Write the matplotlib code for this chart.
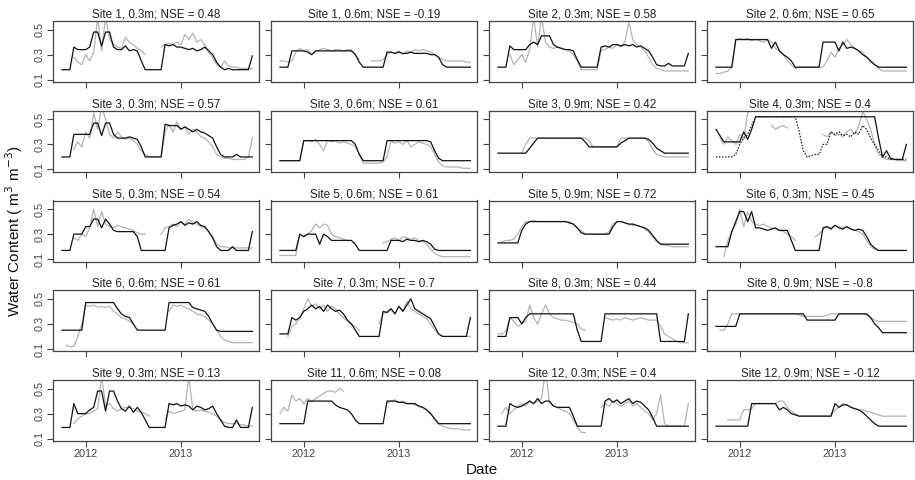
import numpy as np
import matplotlib
matplotlib.use('Agg')
import matplotlib.pyplot as plt

plt.rcParams['font.family'] = ['Liberation Sans', 'DejaVu Sans']

# Time axis: half-month steps from Oct 2011 to Oct 2013 (decimal years).
t_start = 2011.75
n_steps = 49
times = t_start + np.arange(n_steps) / 24.0

N = None

titles = [
    "Site 1, 0.3m; NSE = 0.48", "Site 1, 0.6m; NSE = -0.19", "Site 2, 0.3m; NSE = 0.58", "Site 2, 0.6m; NSE = 0.65",
    "Site 3, 0.3m; NSE = 0.57", "Site 3, 0.6m; NSE = 0.61", "Site 3, 0.9m; NSE = 0.42", "Site 4, 0.3m; NSE = 0.4",
    "Site 5, 0.3m; NSE = 0.54", "Site 5, 0.6m; NSE = 0.61", "Site 5, 0.9m; NSE = 0.72", "Site 6, 0.3m; NSE = 0.45",
    "Site 6, 0.6m; NSE = 0.61", "Site 7, 0.3m; NSE = 0.7", "Site 8, 0.3m; NSE = 0.44", "Site 8, 0.9m; NSE = -0.8",
    "Site 9, 0.3m; NSE = 0.13", "Site 11, 0.6m; NSE = 0.08", "Site 12, 0.3m; NSE = 0.4", "Site 12, 0.9m; NSE = -0.12",
]

# Observed (grey) and modelled (black) water content, one list per panel.
obs_s1_30 = [N, N, N, .28, .24, .22, .30, .25, .32, .60, .33, .60, .42, .38, .36, .35, .44, .40, .38, .35, .33, .30, N, N, N,
             .36, .38, .39, .38, .40, .38, .46, .42, .47, .40, .42, .38, .32, .28, .22, .20, .25, .21, .20, .20, .19, .19, .19, .19]
mod_s1_30 = [.18, .18, .18, .36, .34, .34, .34, .36, .48, .48, .37, .48, .48, .36, .34, .34, .37, .33, .34, .33, .25, .18, .18, .18, .18,
             .18, .38, .37, .38, .36, .36, .35, .34, .35, .33, .34, .36, .33, .30, .24, .20, .18, .19, .18, .18, .18, .18, .18, .29]

obs_s1_60 = [.25, .25, .24, .25, .32, .35, .33, .34, .30, .33, .34, .35, .34, .33, .34, .34, .33, .34, .34, .30, .26, N, N, .25, .25,
             .25, .26, .30, .32, .31, .33, .30, .33, .32, .34, .33, .34, .33, .32, .30, .28, .26, .25, .25, .25, .25, .25, .24, .24]
mod_s1_60 = [.20, .20, .20, .33, .33, .33, .33, .32, .30, .33, .33, .33, .33, .33, .33, .33, .33, .33, .33, .30, .24, .20, .20, .20, .20,
             .20, .20, .32, .32, .31, .32, .31, .31, .32, .31, .31, .31, .31, .30, .30, .28, .22, .20, .20, .20, .20, .20, .20, .20]

obs_s2_30 = [N, N, N, .30, .22, .26, .30, .24, .34, .60, .36, .60, .40, .36, .35, .36, .35, .34, .33, .30, .25, .18, .18, .18, .18,
             .18, .33, .34, .36, .35, .38, .36, .40, .56, .42, .38, .36, .33, .28, .22, .19, .18, .17, .17, .17, .17, .17, .17, .17]
mod_s2_30 = [.20, .20, .20, .37, .34, .34, .34, .34, .38, .40, .38, .45, .45, .45, .38, .36, .35, .34, .34, .33, .26, .20, .20, .20, .20,
             .20, .36, .37, .36, .38, .38, .37, .38, .37, .38, .36, .37, .35, .33, .28, .22, .21, .21, .23, .21, .21, .21, .21, .31]

obs_s2_60 = [.15, .15, .16, .17, .20, .42, .43, .42, .43, .41, .42, .41, .40, .42, .40, .35, .33, .30, .25, .22, .19, .20, .20, .20, .20,
             .20, .20, .20, .25, .32, .28, .35, .38, .42, .38, .35, .33, .32, .28, .24, .22, .19, .17, .17, .17, .17, .17, .17, .17]
mod_s2_60 = [.20, .20, .20, .20, .20, .42, .42, .42, .42, .42, .42, .42, .42, .42, .35, .40, .33, .30, .28, .25, .20, .20, .20, .20, .20,
             .20, .20, .40, .40, .40, .40, .33, .40, .35, .36, .35, .33, .30, .28, .25, .22, .20, .20, .20, .20, .20, .20, .20, .20]

obs_s3_30 = [N, N, N, .26, .32, .28, .40, .35, .55, .42, .60, .50, .38, .35, .40, .36, .34, .35, .33, .30, .25, .22, .20, .20, .20,
             .20, .40, .46, .40, .48, .42, .44, .38, .42, .40, .36, .35, .32, .28, .22, .20, .19, .19, .18, .18, .18, .18, .20, .35]
mod_s3_30 = [.20, .20, .20, .38, .38, .38, .38, .38, .47, .47, .37, .47, .47, .38, .35, .35, .35, .36, .35, .34, .28, .20, .20, .20, .20,
             .20, .46, .45, .45, .45, .42, .44, .42, .40, .42, .40, .39, .37, .35, .28, .22, .20, .20, .20, .22, .20, .20, .20, .20]

obs_s3_60 = [.17, .17, .17, .17, .17, .17, .33, .33, .32, .34, .30, .25, .33, .32, .33, .31, .32, .31, .30, .28, .22, .15, .15, .15, .15,
             .15, .16, .20, .33, .31, .32, .30, .33, .28, .30, .32, .31, .30, .28, .22, .16, .13, .12, .12, .12, .12, .11, .11, .11]
mod_s3_60 = [.17, .17, .17, .17, .17, .17, .33, .33, .33, .33, .33, .33, .33, .33, .33, .33, .33, .33, .33, .30, .22, .17, .17, .17, .17,
             .17, .17, .33, .33, .33, .33, .33, .33, .33, .33, .33, .33, .33, .32, .25, .19, .17, .17, .17, .17, .17, .17, .17, .17]

obs_s3_90 = [N, N, N, N, N, N, .23, .30, .35, .35, .35, .35, .35, .35, .35, .35, .35, .35, .35, .35, .35, .35, .35, .33, .28,
             .28, .28, .28, .28, .28, .28, .35, .35, .35, .35, .35, .35, .35, .32, .26, .22, .21, .20, .20, .20, .20, .20, .20, .20]
mod_s3_90 = [.23, .23, .23, .23, .23, .23, .23, .23, .27, .31, .35, .35, .35, .35, .35, .35, .35, .35, .35, .35, .35, .35, .32, .28, .28,
             .28, .28, .28, .28, .28, .28, .31, .33, .35, .35, .35, .35, .35, .34, .31, .27, .25, .23, .23, .23, .23, .23, .23, .23]

obs_s4_30 = [N, .35, .30, .36, .33, .30, .38, .34, .55, .58, .60, .58, N, N, .45, .42, .44, .45, .43, N, N, N, N, N, N,
             N, N, .38, .36, .40, .37, .38, .36, .40, .42, .38, .45, .56, .50, .42, .30, .22, .20, .18, .18, .18, .17, .17, .17]
mod_s4_30 = [.42, .37, .32, .32, .32, .32, .32, .40, .34, .42, .52, .52, .52, .52, .52, .52, .52, .52, .52, .52, .52, .52, .52, .52, .52,
             .52, .52, .52, .52, .52, .52, .52, .52, .52, .52, .52, .52, .52, .52, .52, .52, .35, .20, .25, .19, .18, .18, .18, .30]
dot_s4_30 = [.20, .20, .20, .20, .20, .22, .30, .35, .38, .45, .52, .52, .52, .52, .52, .52, .52, .52, .52, .52, .52, .40, .25, .20, .21,
             .22, .22, .30, .30, .40, .38, .40, .37, .38, .36, .40, .38, .45, .42, .35, .30, .25, .20, .20, .18, .18, .18, .18, .18]

obs_s5_30 = [N, N, N, .27, .25, .30, .28, .35, .50, .36, .48, .38, .36, .35, .37, .36, .35, .34, .33, .31, .30, .30, N, N, N,
             .30, .35, .36, .38, .36, .40, .38, .42, .39, .38, .36, .35, .32, .28, .22, .20, .20, .19, .19, .19, .19, .19, .19, .19]
mod_s5_30 = [.17, .17, .17, .30, .30, .30, .36, .36, .42, .42, .35, .42, .38, .33, .32, .32, .32, .32, .32, .28, .17, .17, .17, .17, .17,
             .17, .17, .35, .37, .38, .40, .37, .39, .38, .40, .37, .36, .32, .27, .20, .17, .17, .17, .20, .17, .17, .17, .17, .32]

obs_s5_60 = [.13, .13, .13, .13, .13, .30, .28, .30, .33, .38, .35, .38, .37, .30, .28, .27, .26, .25, N, N, N, N, N, N, N,
             N, .23, .24, .26, .27, .25, .28, .27, .26, .27, .25, .24, .22, .18, .15, .13, .12, .12, .12, .12, .12, .12, .12, .12]
mod_s5_60 = [.17, .17, .17, .17, .17, .30, .28, .30, .30, .30, .22, .30, .28, .25, .25, .25, .25, .25, .25, .22, .17, .17, .17, .17, .17,
             .17, .17, .17, .25, .25, .25, .24, .26, .25, .25, .24, .25, .24, .22, .18, .17, .17, .17, .17, .17, .17, .17, .17, .17]

obs_s5_90 = [N, .24, .25, .25, .26, .30, .36, .40, .40, .41, .40, .40, .40, .40, .40, .40, .40, .40, .40, .38, .35, .33, .30, .30, .30,
             .30, .30, .30, .32, .38, .40, .40, .39, .38, .37, .37, .36, .34, .32, .28, .24, .22, .21, .21, .20, .20, .20, .20, .20]
mod_s5_90 = [.23, .23, .23, .23, .23, .23, .33, .38, .40, .40, .40, .40, .40, .40, .40, .40, .40, .40, .39, .38, .35, .31, .30, .30, .30,
             .30, .30, .30, .30, .36, .40, .40, .39, .38, .38, .37, .36, .35, .33, .29, .25, .22, .22, .22, .22, .22, .22, .22, .22]

obs_s6_30 = [N, N, .12, .25, .32, .38, .50, .36, .48, .40, .38, .37, .38, .36, .35, .34, .33, .32, .30, .28, .25, N, N, N, N,
             .28, .30, .34, .36, .35, .37, .36, .35, .36, .34, .33, .32, .30, .25, .20, .18, .17, .17, .17, .17, .17, .17, .17, .17]
mod_s6_30 = [.20, .20, .20, .20, .32, .40, .48, .48, .40, .48, .35, .35, .34, .33, .34, .35, .33, .33, .33, .25, .17, .17, .17, .17, .17,
             .17, .17, .35, .36, .34, .37, .35, .34, .36, .34, .33, .34, .33, .28, .22, .19, .17, .17, .17, .17, .17, .17, .17, .17]

obs_s6_60 = [N, .13, .12, .12, .20, .30, .45, .44, .45, .43, .44, .43, .44, .40, .38, .35, .34, .32, .30, N, N, N, N, N, N,
             N, N, .40, .45, .44, .45, .43, .42, .40, .38, .37, .36, .33, .30, .25, .20, .17, .16, .15, .15, .15, .15, .15, .15]
mod_s6_60 = [.25, .25, .25, .25, .25, .25, .47, .47, .47, .47, .47, .47, .47, .47, .42, .38, .36, .35, .30, .25, .25, .25, .25, .25, .25,
             .25, .25, .47, .47, .47, .47, .47, .47, .43, .42, .41, .40, .36, .30, .25, .24, .24, .24, .24, .24, .24, .24, .24, .24]

obs_s7_30 = [N, N, .20, .28, .30, .35, .42, .50, .44, .46, .42, .45, .40, .44, .42, .38, .35, .32, .30, .28, .25, N, N, N, N,
             .30, .38, .40, .42, .38, .44, .40, .48, .42, .40, .38, .36, .34, .30, .25, .22, .20, .20, .20, .20, .20, .20, .20, .20]
mod_s7_30 = [.22, .22, .22, .35, .33, .35, .40, .42, .45, .42, .44, .40, .45, .42, .40, .41, .38, .33, .30, .25, .20, .20, .20, .20, .20,
             .20, .40, .39, .42, .38, .44, .40, .45, .50, .42, .40, .38, .36, .34, .28, .22, .20, .20, .20, .20, .20, .20, .20, .35]

obs_s8_30 = [.22, .22, .24, .35, .32, .28, .30, .32, .45, .35, .30, .38, .45, .38, .35, .34, .33, .33, .32, .31, .30, .26, .25, N, N,
             N, N, .35, .34, .33, .34, .33, .35, .34, .33, .34, .35, .34, .33, .33, .33, .28, .22, .20, .18, .16, .15, .15, .15]
mod_s8_30 = [.20, .20, .20, .35, .35, .35, .30, .35, .38, .38, .38, .38, .38, .38, .38, .38, .38, .38, .38, .38, .25, .16, .16, .16, .16,
             .16, .16, .38, .38, .38, .38, .38, .38, .38, .38, .38, .38, .38, .38, .38, .38, .16, .16, .16, .16, .16, .16, .16, .38]

obs_s8_90 = [N, .25, .25, .30, .38, .38, .38, .38, .38, .38, .38, .38, .38, .38, .38, .38, .38, .38, .38, .38, .38, .37, .36, .36, .36,
             .36, .36, .36, .37, .38, .38, .38, .38, .38, .38, .38, .38, .38, .37, .35, .33, .32, .32, .32, .32, .32, .32, .32, .32]
mod_s8_90 = [.28, .28, .28, .28, .28, .28, .38, .38, .38, .38, .38, .38, .38, .38, .38, .38, .38, .38, .38, .38, .38, .38, .38, .33, .33,
             .33, .33, .33, .33, .33, .33, .38, .38, .38, .38, .38, .38, .38, .38, .35, .30, .27, .23, .23, .23, .23, .23, .23, .23]

obs_s9_30 = [N, N, N, .22, .26, .28, .30, .30, .32, .34, .60, .36, .38, .34, .32, .34, .35, .35, .34, .32, .31, .30, .28, N, N,
             N, .25, .32, .30, .31, .32, .33, .60, .33, .32, .33, .32, .31, .30, .28, .25, .23, .22, .22, .22, .21, .21, .20, .20]
mod_s9_30 = [.19, .19, .19, .38, .30, .30, .30, .33, .35, .48, .48, .32, .48, .48, .40, .34, .32, .36, .31, .35, .31, .25, .19, .19, .19,
             .19, .19, .38, .37, .38, .36, .37, .36, .33, .36, .35, .33, .34, .36, .30, .25, .20, .19, .19, .25, .19, .19, .19, .35]

obs_s11_60 = [.30, .35, .32, .45, .40, .42, .38, .42, .40, .42, .44, .46, .48, .48, .47, .50, .48, N, N, N, N, N, N, N, N,
              N, N, .38, .40, .41, .39, .40, .38, .38, .37, .36, .35, .33, .30, .25, .22, .20, .19, .18, .18, .18, .17, .17, .17]
mod_s11_60 = [.22, .22, .22, .22, .22, .22, .22, .40, .40, .40, .40, .40, .40, .40, .37, .35, .34, .33, .30, .25, .22, .22, .22, .22, .22,
              .22, .22, .40, .40, .40, .39, .39, .38, .38, .38, .36, .35, .33, .30, .26, .22, .22, .22, .22, .22, .22, .22, .22, .22]

obs_s12_30 = [N, .30, .35, .30, .33, .36, .38, .36, .40, .38, .40, .42, .65, .38, .36, .35, .33, .32, .30, .25, .20, .15, .15, N, N,
              N, .35, .38, .36, .40, .38, .36, .38, .40, .36, .38, .35, .32, .30, .25, .30, .45, .22, .20, .20, .20, .20, .20, .38]
mod_s12_30 = [.20, .20, .20, .38, .36, .35, .36, .38, .40, .38, .42, .38, .40, .40, .36, .35, .35, .35, .35, .28, .20, .20, .20, .20, .20,
              .20, .20, .40, .42, .39, .41, .38, .40, .42, .38, .40, .39, .36, .33, .27, .20, .20, .20, .20, .20, .20, .20, .20, .20]

obs_s12_90 = [N, N, N, .25, .25, .25, .25, .33, .33, .34, .38, .38, .38, .38, .38, .38, .40, .40, .35, .32, .30, .28, .28, .28, .28,
              .28, .28, .28, .28, .28, .33, .35, .38, .37, .35, .34, .33, .33, .32, .31, .30, .29, .28, .28, .28, .28, .28, .28, .28]
mod_s12_90 = [.20, .20, .20, .20, .20, .20, .20, .20, .20, .38, .38, .38, .38, .38, .38, .38, .33, .35, .33, .30, .29, .28, .28, .28, .28,
              .28, .28, .28, .28, .28, .38, .35, .37, .37, .35, .34, .33, .31, .28, .25, .22, .20, .20, .20, .20, .20, .20, .20, .20]

observed = [obs_s1_30, obs_s1_60, obs_s2_30, obs_s2_60,
            obs_s3_30, obs_s3_60, obs_s3_90, obs_s4_30,
            obs_s5_30, obs_s5_60, obs_s5_90, obs_s6_30,
            obs_s6_60, obs_s7_30, obs_s8_30, obs_s8_90,
            obs_s9_30, obs_s11_60, obs_s12_30, obs_s12_90]
modelled = [mod_s1_30, mod_s1_60, mod_s2_30, mod_s2_60,
            mod_s3_30, mod_s3_60, mod_s3_90, mod_s4_30,
            mod_s5_30, mod_s5_60, mod_s5_90, mod_s6_30,
            mod_s6_60, mod_s7_30, mod_s8_30, mod_s8_90,
            mod_s9_30, mod_s11_60, mod_s12_30, mod_s12_90]
# Second model run, only shown for Site 4.
extra = {7: dot_s4_30}

y_ticks = [0.1, 0.3, 0.5]
x_ticks = [2012, 2013]
x_tick_labels = ["2012", "2013"]

W, H = 915, 480
fig = plt.figure(figsize=(W / 100, H / 100), dpi=100)

frame_col = '#444444'
txt_col = '#444444'

# Panel boxes in pixels.
col_left = [53, 271, 489, 707]
panel_w = 206
row_top = [21 + 89.75 * r for r in range(5)]
panel_h = 61

for k in range(20):
    r, c = divmod(k, 4)
    ax = fig.add_axes([col_left[c] / W, 1 - (row_top[r] + panel_h) / H, panel_w / W, panel_h / H])
    ax.plot(times, np.array(observed[k], dtype=float), color='#b4b4b4', lw=0.9)
    if k in extra:
        ax.plot(times, np.array(extra[k], dtype=float), color='#222222', lw=0.9, ls=(0, (1.2, 1.2)))
    ax.plot(times, np.array(modelled[k], dtype=float), color='#111111', lw=0.9)

    ax.set_xlim(2011.656, 2013.82)
    ax.set_ylim(0.082, 0.568)
    ax.set_yticks(y_ticks)
    ax.set_xticks(x_ticks)
    ax.tick_params(direction='out', length=4, width=0.8, color=frame_col, labelcolor=txt_col, labelsize=7.8, pad=2)
    if c == 0:
        ax.set_yticklabels([str(v) for v in y_ticks], rotation=90, va='center')
    else:
        ax.set_yticklabels([])
    if r == 4:
        ax.set_xticklabels(x_tick_labels)
    else:
        ax.set_xticklabels([])
    for sp in ax.spines.values():
        sp.set_color(frame_col)
        sp.set_linewidth(0.9)
    ax.set_title(titles[k], fontsize=8.4, color='#222222', pad=2.5)

fig.text(14 / W, 1 - 231 / H, "Water Content ( m$^3$ m$^{-3}$)", rotation=90, ha='center', va='center',
         fontsize=11, color='#111111')
fig.text(482 / W, 1 - 470 / H, "Date", ha='center', va='center', fontsize=11, color='#111111')

fig.savefig('out.png', dpi=100)
